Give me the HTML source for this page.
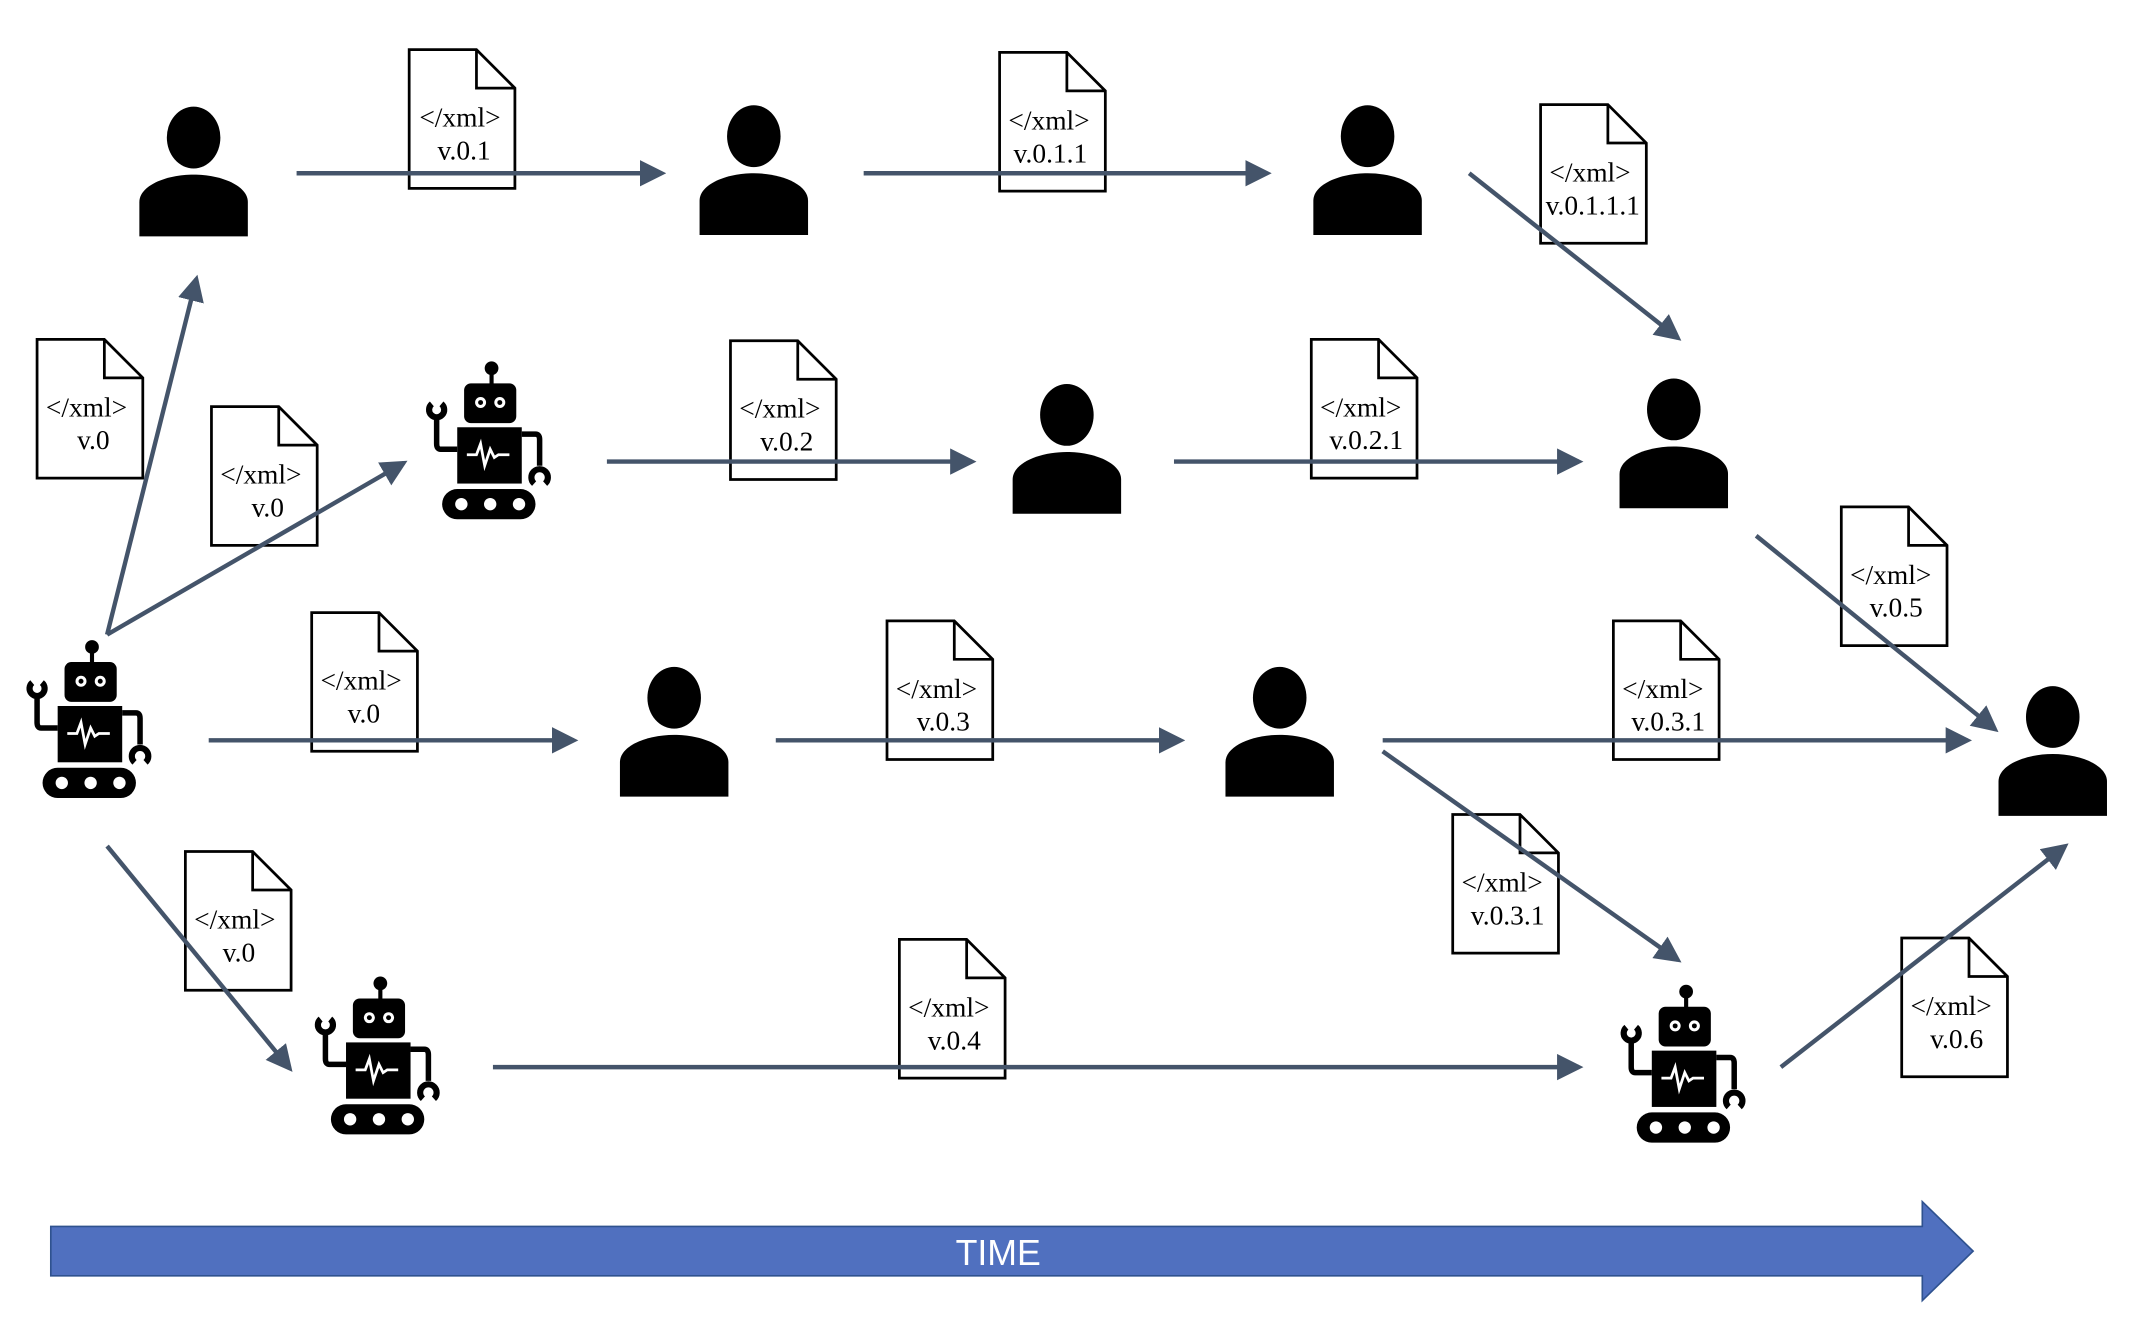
<!DOCTYPE html>
<html><head><meta charset="utf-8"><style>
html,body{margin:0;padding:0;background:#fff;}
svg{display:block;}
.doc text{font-family:"Liberation Serif",serif;font-size:20px;fill:#000;text-anchor:middle;}
</style></head><body>
<svg width="2142" height="1320" viewBox="0 0 1560 961" xmlns="http://www.w3.org/2000/svg">
<defs>
<marker id="ah" markerWidth="6" markerHeight="6" refX="5" refY="3" orient="auto" markerUnits="strokeWidth">
<path d="M0,0 L6,3 L0,6 Z" fill="#44546a"/>
</marker>
<g id="person">
<ellipse cx="0" cy="0" rx="19.5" ry="22.5" fill="#000"/>
<path d="M-39.5,72 V47 C-39.5,35 -20,27 0,27 C20,27 39.5,35 39.5,47 V72 Z" fill="#000"/>
</g>
<g id="robot">
<circle cx="45" cy="5" r="5" fill="#000"/>
<rect x="43.5" y="8" width="3" height="10" fill="#000"/>
<rect x="25" y="16" width="38" height="29" rx="5" fill="#000"/>
<circle cx="37" cy="30" r="4" fill="#fff"/><circle cx="37" cy="30" r="1.8" fill="#000"/>
<circle cx="51" cy="30" r="4" fill="#fff"/><circle cx="51" cy="30" r="1.8" fill="#000"/>
<rect x="20" y="48" width="47" height="41" fill="#000"/>
<polyline points="27,68 34,68 37,60 40,76 44,64 47,70 50,68 58,68" fill="none" stroke="#fff" stroke-width="2"/>
<path d="M20,64 H8 Q5,64 5,60 V40" fill="none" stroke="#000" stroke-width="4"/>
<path d="M1.5,31 A5.5,5.5 0 1 0 8.5,31" fill="none" stroke="#000" stroke-width="4.5"/>
<path d="M67,53 H77 Q80,53 80,57 V76" fill="none" stroke="#000" stroke-width="4"/>
<path d="M76,89 A6,6 0 1 1 84,89" fill="none" stroke="#000" stroke-width="4.5"/>
<rect x="9" y="93" width="68" height="22" rx="11" fill="#000"/>
<circle cx="23" cy="104" r="4.5" fill="#fff"/>
<circle cx="44" cy="104" r="4.5" fill="#fff"/>
<circle cx="65" cy="104" r="4.5" fill="#fff"/>
</g>
<path id="docshape" d="M0,0 H49 L77,28 V101 H0 Z M49,0 V28 H77" fill="#fff" stroke="#000" stroke-width="2"/>
</defs>

<g class="doc">
<g transform="translate(298,36)"><use href="#docshape"/><text x="37" y="56">&lt;/xml&gt;</text><text x="40" y="80">v.0.1</text></g>
<g transform="translate(728,38)"><use href="#docshape"/><text x="36" y="56">&lt;/xml&gt;</text><text x="37" y="80">v.0.1.1</text></g>
<g transform="translate(1122,76)"><use href="#docshape"/><text x="36" y="56">&lt;/xml&gt;</text><text x="38" y="80">v.0.1.1.1</text></g>
<g transform="translate(27,247)"><use href="#docshape"/><text x="36" y="56">&lt;/xml&gt;</text><text x="41" y="80">v.0</text></g>
<g transform="translate(154,296)"><use href="#docshape"/><text x="36" y="56">&lt;/xml&gt;</text><text x="41" y="80">v.0</text></g>
<g transform="translate(532,248)"><use href="#docshape"/><text x="36" y="56">&lt;/xml&gt;</text><text x="41" y="80">v.0.2</text></g>
<g transform="translate(955,247)"><use href="#docshape"/><text x="36" y="56">&lt;/xml&gt;</text><text x="40" y="80">v.0.2.1</text></g>
<g transform="translate(1341,369)"><use href="#docshape"/><text x="36" y="56">&lt;/xml&gt;</text><text x="40" y="80">v.0.5</text></g>
<g transform="translate(227,446)"><use href="#docshape"/><text x="36" y="56">&lt;/xml&gt;</text><text x="38" y="80">v.0</text></g>
<g transform="translate(646,452)"><use href="#docshape"/><text x="36" y="56">&lt;/xml&gt;</text><text x="41" y="80">v.0.3</text></g>
<g transform="translate(1175,452)"><use href="#docshape"/><text x="36" y="56">&lt;/xml&gt;</text><text x="40" y="80">v.0.3.1</text></g>
<g transform="translate(135,620)"><use href="#docshape"/><text x="36" y="56">&lt;/xml&gt;</text><text x="39" y="80">v.0</text></g>
<g transform="translate(1058,593)"><use href="#docshape"/><text x="36" y="56">&lt;/xml&gt;</text><text x="40" y="80">v.0.3.1</text></g>
<g transform="translate(655,684)"><use href="#docshape"/><text x="36" y="56">&lt;/xml&gt;</text><text x="40" y="80">v.0.4</text></g>
<g transform="translate(1385,683)"><use href="#docshape"/><text x="36" y="56">&lt;/xml&gt;</text><text x="40" y="80">v.0.6</text></g>
</g>

<g stroke="#44546a" stroke-width="3.2" marker-end="url(#ah)" fill="none">
<line x1="216" y1="126" x2="482" y2="126"/>
<line x1="629" y1="126" x2="923" y2="126"/>
<line x1="1070" y1="126" x2="1222" y2="246"/>
<line x1="78" y1="462" x2="143" y2="203"/>
<line x1="78" y1="462" x2="294" y2="337"/>
<line x1="442" y1="336" x2="708" y2="336"/>
<line x1="855" y1="336" x2="1150" y2="336"/>
<line x1="1279" y1="390" x2="1453" y2="531"/>
<line x1="152" y1="539" x2="418" y2="539"/>
<line x1="565" y1="539" x2="860" y2="539"/>
<line x1="1007" y1="539" x2="1433" y2="539"/>
<line x1="1007" y1="547" x2="1222" y2="699"/>
<line x1="78" y1="616" x2="211" y2="778"/>
<line x1="359" y1="777" x2="1150" y2="777"/>
<line x1="1297" y1="777" x2="1504" y2="616"/>
</g>

<use href="#person" transform="translate(141,100)"/>
<use href="#person" transform="translate(549,99)"/>
<use href="#person" transform="translate(996,99)"/>
<use href="#person" transform="translate(777,302)"/>
<use href="#person" transform="translate(1219,298)"/>
<use href="#person" transform="translate(491,508)"/>
<use href="#person" transform="translate(932,508)"/>
<use href="#person" transform="translate(1495,522)"/>

<use href="#robot" transform="translate(22,466)"/>
<use href="#robot" transform="translate(313,263)"/>
<use href="#robot" transform="translate(232,711)"/>
<use href="#robot" transform="translate(1183,717)"/>

<path d="M37,893 H1400 V875 L1437,911 L1400,947 V929 H37 Z" fill="#5070bf" stroke="#2f528f" stroke-width="1.2"/>
<text x="727" y="921" font-family="Liberation Sans, sans-serif" font-size="26" fill="#fff" text-anchor="middle">TIME</text>
</svg>
</body></html>
